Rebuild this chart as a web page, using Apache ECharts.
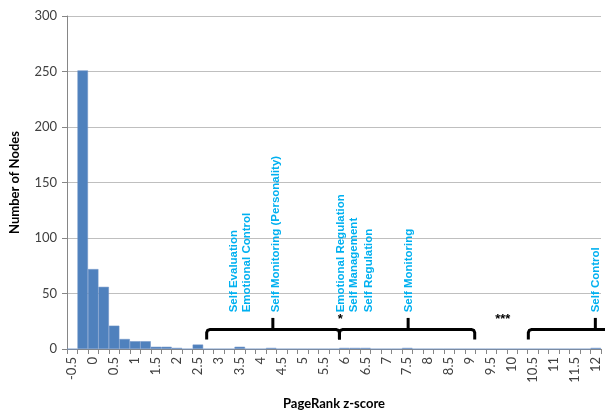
<!DOCTYPE html>
<html><head><meta charset="utf-8">
<script src="https://cdn.jsdelivr.net/npm/echarts@6/dist/echarts.min.js"></script>
<style>html,body{margin:0;padding:0;background:#fff}#c{width:605px;height:415px}</style>
</head><body><div id="c"></div>
<script>
// z-score bins (step 0.25)
const categories = ["-0.5","-0.25","0","0.25","0.5","0.75","1","1.25","1.5","1.75","2","2.25","2.5","2.75","3","3.25","3.5","3.75","4","4.25","4.5","4.75","5","5.25","5.5","5.75","6","6.25","6.5","6.75","7","7.25","7.5","7.75","8","8.25","8.5","8.75","9","9.25","9.5","9.75","10","10.25","10.5","10.75","11","11.25","11.5","11.75","12"];
const counts = [0,251,72,56,21,9,7,7,2,2,1,0,4,0,0,0,2,0,0,1,0,0,0,0,0,0,1,1,1,0,0,0,1,0,0,0,0,0,0,0,0,0,0,0,0,0,0,0,0,0,1];
const yTicks = [0,50,100,150,200,250,300];
// annotations: label, z position
const annotLabels = ["Self Evaluation","Emotional Control","Self Monitoring (Personality)","Emotional Regulation","Self Management","Self Regulation","Self Monitoring","Self Control"];
const annotZ = [3.35,3.66,4.35,5.92,6.23,6.57,7.54,11.99];
// braces: start z, peak z, end z
const braceStart = [2.71, 5.88, 10.39];
const bracePeak = [4.29, 7.52, 11.99];
const braceEnd = [5.88, 9.11, 12.3];
const starLabels = ["*","***"];
const starZ = [5.9, 9.78];

const chart = echarts.init(document.getElementById('c'), null, {renderer:'canvas'});
const F = 'Lato, "Open Sans", sans-serif';
chart.setOption({
  animation:false,
  grid:{left:65,right:4,top:16,bottom:62,containLabel:false},
  xAxis:{type:'category',data:categories,boundaryGap:true,
    name:'PageRank z-score',nameLocation:'middle',nameGap:48,
    nameTextStyle:{fontFamily:F,fontWeight:'bold',fontSize:13,color:'#000'},
    axisLine:{lineStyle:{color:'#868686'}},
    axisTick:{show:true,interval:0,length:5,lineStyle:{color:'#868686'}},
    axisLabel:{interval:1,rotate:90,margin:8,fontFamily:F,fontSize:13,color:'#404040'}},
  yAxis:{type:'value',min:yTicks[0],max:yTicks[yTicks.length-1],interval:50,
    name:'Number of Nodes',nameLocation:'middle',nameGap:46,
    nameTextStyle:{fontFamily:F,fontWeight:'bold',fontSize:13,color:'#000'},
    axisLine:{show:true,lineStyle:{color:'#868686'}},
    axisTick:{show:true,length:5,lineStyle:{color:'#868686'}},
    axisLabel:{margin:10,fontFamily:F,fontSize:13,color:'#404040'},
    splitLine:{lineStyle:{color:'#BFBFBF'}}},
  series:[{type:'bar',data:counts,barCategoryGap:'0%',
    itemStyle:{color:'#4F81BD',borderColor:'#6F93C6',borderWidth:0.5}}]
});

function xPx(z){
  const p0 = chart.convertToPixel({xAxisIndex:0}, categories[0]);
  const p1 = chart.convertToPixel({xAxisIndex:0}, categories[1]);
  return p0 + (p1-p0)*((z - Number(categories[0]))/0.25);
}
function yPx(v){ return chart.convertToPixel({yAxisIndex:0}, v); }

const g = [];
const textBottom = yPx(33);
annotLabels.forEach((t,i)=>{
  g.push({type:'text',x:xPx(annotZ[i]),y:textBottom,rotation:Math.PI/2,
    style:{text:t,fill:'#00B0F0',fontFamily:'"Liberation Sans", Arial, sans-serif',fontWeight:'bold',fontSize:11.5,textAlign:'left',textVerticalAlign:'middle'}});
});
const yH = yPx(17.5), yE = yPx(8.5), yP = yPx(28);
const r = 3;
braceStart.forEach((s,i)=>{
  const x0=xPx(s), xm=xPx(bracePeak[i]), x1=xPx(braceEnd[i]);
  g.push({type:'polyline',shape:{points:[[x0,yE],[x0,yH+r],[x0+0.9,yH+0.9],[x0+r,yH],[x1-r,yH],[x1-0.9,yH+0.9],[x1,yH+r],[x1,yE]]},
    style:{stroke:'#000',lineWidth:3,fill:null,lineJoin:'round'}});
  g.push({type:'line',shape:{x1:xm,y1:yH,x2:xm,y2:yP},style:{stroke:'#000',lineWidth:3}});
});
starLabels.forEach((t,i)=>{
  g.push({type:'text',x:xPx(starZ[i]),y:yPx(27),
    style:{text:t,fill:'#000',fontFamily:'"Liberation Sans", Arial, sans-serif',fontWeight:'bold',fontSize:13,textAlign:'center',textVerticalAlign:'middle'}});
});
chart.setOption({graphic:g});
</script></body></html>
